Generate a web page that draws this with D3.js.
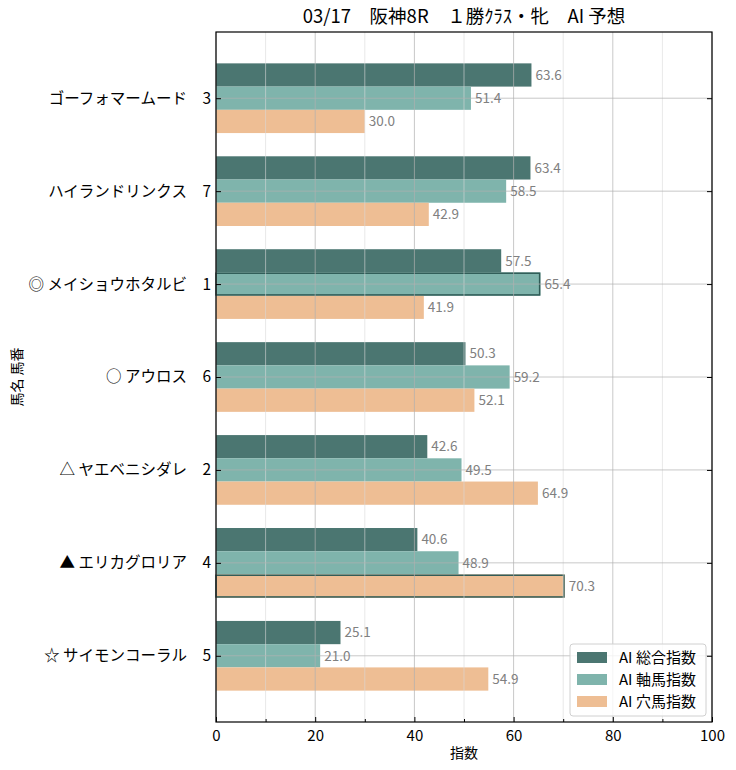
<!DOCTYPE html>
<html><head><meta charset="utf-8">
<script src="https://cdn.jsdelivr.net/npm/d3@7"></script>
<style>body{margin:0;background:#fff;} text{font-family:"Noto Sans CJK JP","Noto Sans",sans-serif;}</style>
</head><body><svg id="c" width="736" height="770"></svg>
<script>
const title = "03/17　阪神8R　１勝ｸﾗｽ・牝　AI 予想";
const horses = ["ゴーフォマームード　3","ハイランドリンクス　7","◎ メイショウホタルビ　1","○ アウロス　6","△ ヤエベニシダレ　2","▲ エリカグロリア　4","☆ サイモンコーラル　5"];
const seriesNames = ["AI 総合指数","AI 軸馬指数","AI 穴馬指数"];
const sogo = [63.6,63.4,57.5,50.3,42.6,40.6,25.1];
const jiku = [51.4,58.5,65.4,59.2,49.5,48.9,21.0];
const ana  = [30.0,42.9,41.9,52.1,64.9,70.3,54.9];
const highlighted = [[1,2],[2,5]]; // [series, horse]
const xTicks = [0,20,40,60,80,100];
const xMinor = [10,30,50,70,90];
const colors = ["#4b7671","#7fb4ac","#eebe94"];
const series = [sogo,jiku,ana];

const svg = d3.select("#c");
const m = {l:216, r:712, t:32, b:722};
const x = d3.scaleLinear().domain([0,100]).range([m.l,m.r]);
const y = d3.scaleLinear().domain([-0.7125, horses.length-1+0.7125]).range([m.t,m.b]);
const bw = 0.25;

// bars
series.forEach((vals,s)=>{
  svg.append("g").selectAll("rect").data(vals).join("rect")
    .attr("x", x(0))
    .attr("y", (d,i)=>y(i-0.375+s*bw))
    .attr("width", d=>x(d)-x(0))
    .attr("height", y(bw)-y(0))
    .attr("fill", colors[s]);
});
// highlights
highlighted.forEach(([s,i])=>{
  const v = series[s][i];
  svg.append("rect").attr("x",x(0)).attr("y",y(i-0.375+s*bw)+0.75)
    .attr("width",x(v)-x(0)-0.75).attr("height",y(bw)-y(0)-1.5)
    .attr("fill","none").attr("stroke","#2e5a55").attr("stroke-width",1.5);
});

// grid (drawn on top)
const g = svg.append("g");
xMinor.forEach(v=>g.append("line").attr("x1",x(v)).attr("x2",x(v)).attr("y1",m.t).attr("y2",m.b)
  .attr("stroke","#d8d8d8").attr("stroke-opacity",0.6).attr("stroke-width",1));
xTicks.forEach(v=>g.append("line").attr("x1",x(v)).attr("x2",x(v)).attr("y1",m.t).attr("y2",m.b)
  .attr("stroke","#b0b0b0").attr("stroke-opacity",0.7).attr("stroke-width",1));
horses.forEach((h,i)=>g.append("line").attr("x1",m.l).attr("x2",m.r).attr("y1",y(i)).attr("y2",y(i))
  .attr("stroke","#b0b0b0").attr("stroke-opacity",0.7).attr("stroke-width",1));

// value labels
series.forEach((vals,s)=>{
  svg.append("g").selectAll("text").data(vals).join("text")
    .attr("x", d=>x(d)+4)
    .attr("y", (d,i)=>y(i-0.375+s*bw+bw/2))
    .attr("dy","0.35em")
    .attr("font-size",13.5).attr("fill","#808080")
    .text(d=>d.toFixed(1));
});

// frame
svg.append("rect").attr("x",m.l).attr("y",m.t).attr("width",m.r-m.l).attr("height",m.b-m.t)
  .attr("fill","none").attr("stroke","#000").attr("stroke-width",1.2);

// axes ticks (inward)
const xAxis = d3.axisBottom(x).tickValues(xTicks).tickSize(-5).tickPadding(8).tickFormat(d3.format("d"));
const xa = svg.append("g").attr("transform",`translate(0,${m.b})`).call(xAxis);
xa.select(".domain").remove();
xa.selectAll("text").attr("font-size",15).attr("fill","#000");
const xm = svg.append("g").attr("transform",`translate(0,${m.b})`).call(d3.axisBottom(x).tickValues(xMinor).tickSize(-3).tickFormat(""));
xm.select(".domain").remove();

const yl = svg.append("g").attr("transform",`translate(${m.l},0)`)
  .call(d3.axisLeft(y).tickValues(d3.range(horses.length)).tickSize(-5).tickPadding(5).tickFormat(i=>horses[i]));
yl.select(".domain").remove();
yl.selectAll("text").attr("font-size",15.5).attr("fill","#000");
const yr = svg.append("g").attr("transform",`translate(${m.r},0)`)
  .call(d3.axisRight(y).tickValues(d3.range(horses.length)).tickSize(-5).tickFormat(""));
yr.select(".domain").remove();

// titles
svg.append("text").attr("x",(m.l+m.r)/2).attr("y",23).attr("text-anchor","middle")
  .attr("font-size",18.5).text(title);
svg.append("text").attr("x",(m.l+m.r)/2).attr("y",758).attr("text-anchor","middle")
  .attr("font-size",14).text("指数");
svg.append("text").attr("transform",`translate(22,${(m.t+m.b)/2}) rotate(-90)`).attr("text-anchor","middle")
  .attr("font-size",14).text("馬名 馬番");

// legend
const lg = svg.append("g").attr("transform","translate(570,644)");
lg.append("rect").attr("width",136).attr("height",72).attr("rx",3)
  .attr("fill","#fff").attr("fill-opacity",0.8).attr("stroke","#d0d0d0");
seriesNames.forEach((n,i)=>{
  lg.append("rect").attr("x",7).attr("y",8+i*22).attr("width",30).attr("height",11).attr("fill",colors[i]);
  lg.append("text").attr("x",49).attr("y",14+i*22).attr("dy","0.35em").attr("font-size",15).text(n);
});
</script></body></html>
